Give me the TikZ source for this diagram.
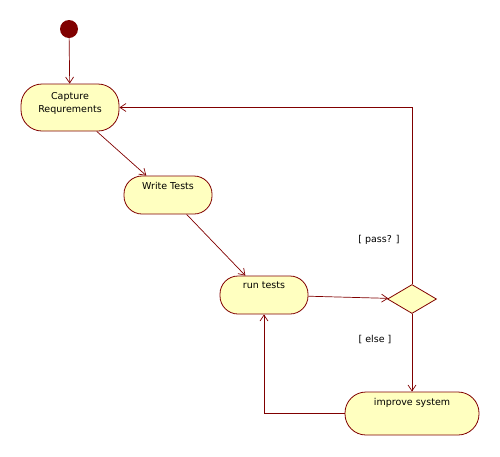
\documentclass[tikz,border=0pt]{standalone}
\usepackage{fontspec}
\setmainfont{DejaVu Sans}
\usetikzlibrary{arrows.meta,shapes.geometric}
\definecolor{umlline}{RGB}{128,0,0}
\definecolor{umlfill}{RGB}{255,255,192}
\begin{document}
\begin{tikzpicture}[x=1pt,y=-1pt,font=\fontsize{9.5}{13}\selectfont,
  act/.style={draw=umlline,fill=umlfill,line width=0.8pt,rectangle,inner sep=0pt},
  txt/.style={anchor=north,yshift=-6pt,align=center,inner sep=0pt},
  flow/.style={draw=umlline,line width=0.7pt,-{Straight Barb[length=6pt,width=8pt]}}]
\useasboundingbox (0,0) rectangle (500,456);
\node[circle,fill=umlline,minimum size=18pt,inner sep=0pt] (start) at (69,29) {};
\node[act,minimum width=98pt,minimum height=47pt,rounded corners=21pt,
  label={[txt,yshift=-3pt]north:Capture\\Requrements}] (cap) at (70,107.5) {};
\node[act,minimum width=88pt,minimum height=38pt,rounded corners=18pt,
  label={[txt]north:Write Tests}] (write) at (168,195) {};
\node[act,minimum width=88pt,minimum height=38pt,rounded corners=18pt,
  label={[txt]north:run tests}] (run) at (264,295) {};
\node[act,minimum width=134pt,minimum height=43pt,rounded corners=21pt,
  label={[txt]north:improve system}] (imp) at (412,413.5) {};
\node[act,diamond,minimum width=49pt,minimum height=29pt] (dec) at (412,299) {};
\node (pass) at (379,240) {[ pass? ]};
\node (else) at (375,340) {[ else ]};
\draw[flow] (start) -- (cap);
\draw[flow] (cap) -- (write);
\draw[flow] (write) -- (run);
\draw[flow] (run) -- (dec);
\draw[flow] (dec.north) |- (cap.east);
\draw[flow] (dec.south) -- (imp.north);
\draw[flow] (imp.west) -| (run.south);
\end{tikzpicture}
\end{document}
